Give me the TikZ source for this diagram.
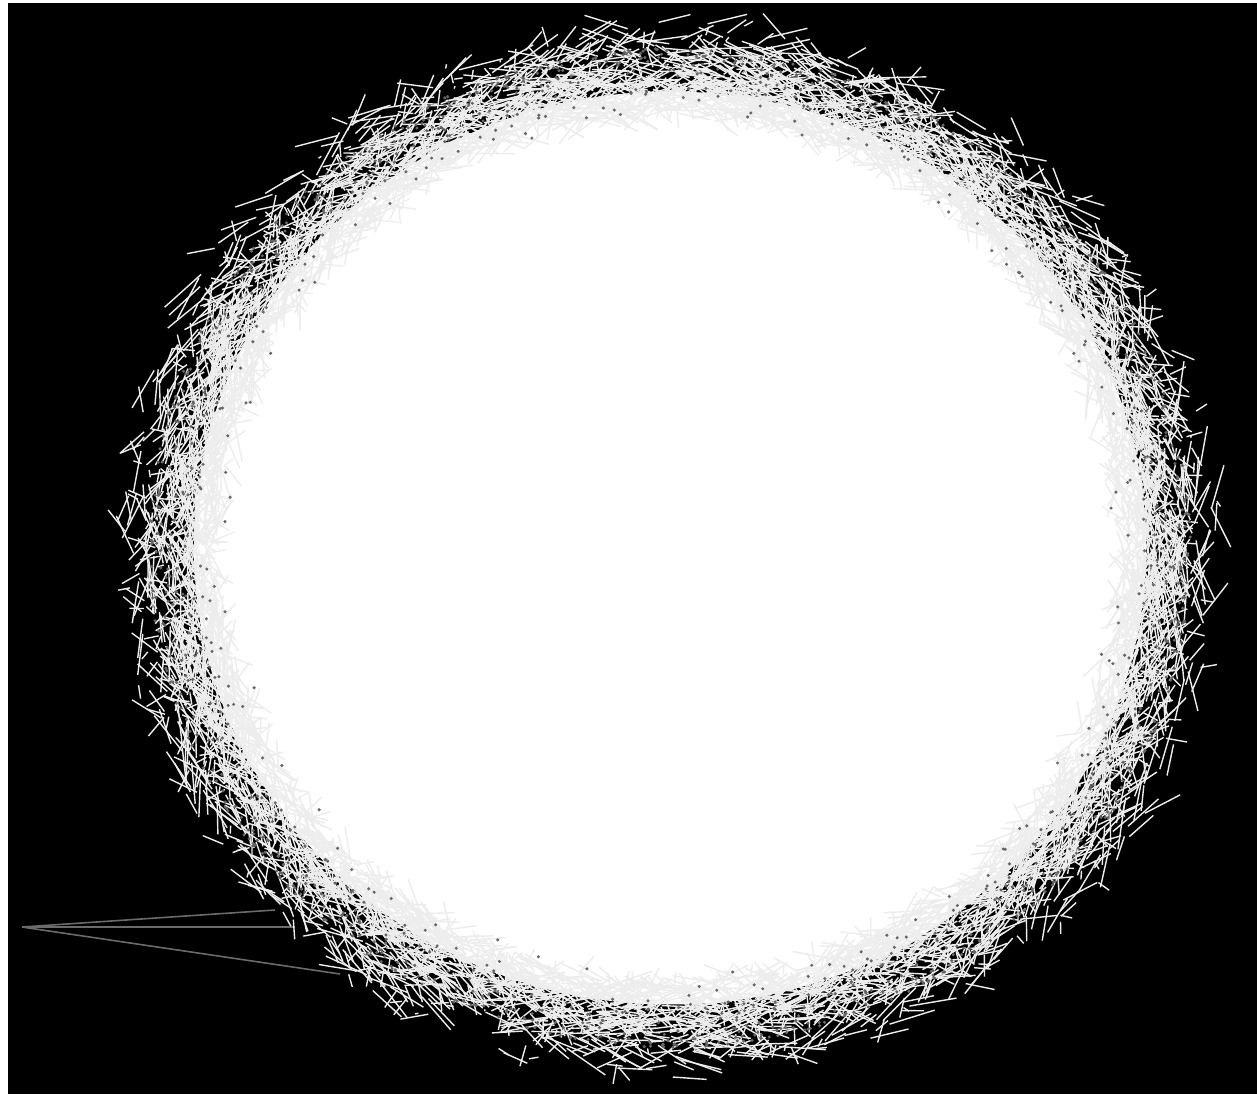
\documentclass[tikz,border=0pt]{standalone}
\usetikzlibrary{calc}

\tikzset{
  fringe/.style={draw=black!7, line width=0.4pt},
  speck/.style={fill=black!60},
  farEdge/.style={draw=black!58, line width=0.45pt}
}

\begin{document}
\begin{tikzpicture}
    % Frame
    \useasboundingbox (0,0) rectangle (12.57,10.94);
    \fill[white] (0,0) rectangle (12.57,10.94);
    \fill[black] (0.08,0) rectangle (12.57,10.91);

    % Centre of the cloud
    \coordinate (blob) at (6.70,5.46);

    % Outlier node and its three edges
    \coordinate (outlier) at (0.22,1.67);
    \coordinate (hubA) at (2.75,1.84);
    \coordinate (hubB) at (2.95,1.67);
    \coordinate (hubC) at (3.40,1.20);
    \draw[farEdge] (outlier) -- (hubA);
    \draw[farEdge] (outlier) -- (hubB);
    \draw[farEdge] (outlier) -- (hubC);

    \pgfmathsetseed{4242}
    \begin{scope}[shift={(blob)}]
    % Core
    \fill[white] (0,0) ellipse ({5.6*0.85} and {5.37*0.85});
    % Fringe edges
    \foreach \i in {1,...,8000}{
        \pgfmathsetmacro{\ang}{360*rnd}
        \pgfmathsetmacro{\rad}{0.81+0.18*rnd*(0.35+0.65*rnd)}
        \pgfmathsetmacro{\angB}{\ang+5*rand}
        \pgfmathsetmacro{\radB}{\rad+0.04*rand}
        \draw[fringe] ({5.6*\rad*cos(\ang)},{5.37*\rad*sin(\ang)})
            -- ({5.6*\radB*cos(\angB)},{5.37*\radB*sin(\angB)});
    }
    % Specks in the transition zone
    \foreach \i in {1,...,1500}{
        \pgfmathsetmacro{\ang}{360*rnd}
        \pgfmathsetmacro{\rad}{0.93-0.15*rnd*rnd}
        \fill[speck] ({5.6*\rad*cos(\ang)},{5.37*\rad*sin(\ang)}) circle (0.017);
    }
    \end{scope}
\end{tikzpicture}
\end{document}
